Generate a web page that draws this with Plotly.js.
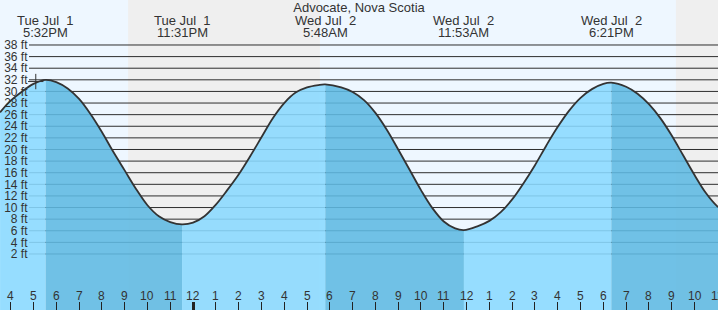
<!DOCTYPE html>
<html>
<head>
<meta charset="utf-8">
<script src="https://cdn.plot.ly/plotly-3.0.1.min.js"></script>
<style>
  html, body { margin: 0; padding: 0; background: #ffffff; }
  #chart { width: 718px; height: 310px; }
</style>
</head>
<body>
<div id="chart"></div>
<script>
// ---- Data ----
const stationName = 'Advocate, Nova Scotia';

// tide height curve (ft), local times
const tideTimes = [
  '2025-07-01 15:32', '2025-07-01 16:00', '2025-07-01 16:30', '2025-07-01 17:00', '2025-07-01 17:32',
  '2025-07-01 18:00', '2025-07-01 18:30', '2025-07-01 19:00', '2025-07-01 19:30', '2025-07-01 20:00',
  '2025-07-01 20:30', '2025-07-01 21:00', '2025-07-01 21:30', '2025-07-01 22:00', '2025-07-01 22:30',
  '2025-07-01 23:00', '2025-07-01 23:31',
  '2025-07-02 00:00', '2025-07-02 00:30', '2025-07-02 01:00', '2025-07-02 01:30', '2025-07-02 02:00',
  '2025-07-02 02:30', '2025-07-02 03:00', '2025-07-02 03:30', '2025-07-02 04:00', '2025-07-02 04:30',
  '2025-07-02 05:00', '2025-07-02 05:30', '2025-07-02 05:48', '2025-07-02 06:30', '2025-07-02 07:00',
  '2025-07-02 07:30', '2025-07-02 08:00', '2025-07-02 08:30', '2025-07-02 09:00', '2025-07-02 09:30',
  '2025-07-02 10:00', '2025-07-02 10:30', '2025-07-02 11:00', '2025-07-02 11:30', '2025-07-02 11:53',
  '2025-07-02 12:30', '2025-07-02 13:00', '2025-07-02 13:30', '2025-07-02 14:00', '2025-07-02 14:30',
  '2025-07-02 15:00', '2025-07-02 15:30', '2025-07-02 16:00', '2025-07-02 16:30', '2025-07-02 17:00',
  '2025-07-02 17:30', '2025-07-02 18:00', '2025-07-02 18:21', '2025-07-02 19:00', '2025-07-02 19:30',
  '2025-07-02 20:00', '2025-07-02 20:30', '2025-07-02 21:00', '2025-07-02 21:30', '2025-07-02 22:00',
  '2025-07-02 22:30', '2025-07-02 23:00', '2025-07-02 23:02'
];
const tideHeights = [
  26.4, 28.4, 30.0, 31.3, 32.0,
  31.6, 30.5, 28.7, 26.1, 23.0,
  19.6, 16.4, 13.2, 10.4, 8.5,
  7.5, 7.1,
  7.4, 8.5, 10.5, 13.0, 15.7,
  18.8, 22.1, 25.4, 28.0, 29.8,
  30.7, 31.1, 31.2, 30.7, 29.9,
  28.5, 26.3, 23.4, 20.0, 16.5,
  13.0, 9.9, 7.6, 6.4, 6.1,
  6.8, 7.7, 9.2, 11.4, 14.2,
  17.3, 20.7, 23.9, 26.7, 28.9,
  30.4, 31.3, 31.5, 30.8, 29.6,
  27.8, 25.4, 22.4, 19.0, 15.6,
  12.5, 10.2, 10.1
];

// high / low tide labels
const extremeTimes = ['2025-07-01 17:32', '2025-07-01 23:31', '2025-07-02 05:48', '2025-07-02 11:53', '2025-07-02 18:21'];
const extremeDays = ['Tue Jul\u00a0 1', 'Tue Jul\u00a0 1', 'Wed Jul\u00a0 2', 'Wed Jul\u00a0 2', 'Wed Jul\u00a0 2'];
const extremeClock = ['5:32PM', '11:31PM', '5:48AM', '11:53AM', '6:21PM'];

// night periods (sunset -> sunrise)
const nightStarts = ['2025-07-01 21:09', '2025-07-02 21:11'];
const nightEnds = ['2025-07-02 05:34', '2025-07-02 23:10'];

// current time marker
const nowTime = ['2025-07-01 17:06'];
const nowHeight = [31.7];

// height grid (ft)
const heightTicks = [2, 4, 6, 8, 10, 12, 14, 16, 18, 20, 22, 24, 26, 28, 30, 32, 34, 36, 38];
const heightLabels = heightTicks.map(v => v + ' ft');

// hour ticks
const hourTicks = [
  '2025-07-01 16:00', '2025-07-01 17:00', '2025-07-01 18:00', '2025-07-01 19:00',
  '2025-07-01 20:00', '2025-07-01 21:00', '2025-07-01 22:00', '2025-07-01 23:00',
  '2025-07-02 00:00', '2025-07-02 01:00', '2025-07-02 02:00', '2025-07-02 03:00',
  '2025-07-02 04:00', '2025-07-02 05:00', '2025-07-02 06:00', '2025-07-02 07:00',
  '2025-07-02 08:00', '2025-07-02 09:00', '2025-07-02 10:00', '2025-07-02 11:00',
  '2025-07-02 12:00', '2025-07-02 13:00', '2025-07-02 14:00', '2025-07-02 15:00',
  '2025-07-02 16:00', '2025-07-02 17:00', '2025-07-02 18:00', '2025-07-02 19:00',
  '2025-07-02 20:00', '2025-07-02 21:00', '2025-07-02 22:00', '2025-07-02 23:00'
];
const hourLabels = ['4', '5', '6', '7', '8', '9', '10', '11', '12', '1', '2', '3', '4', '5', '6', '7',
  '8', '9', '10', '11', '12', '1', '2', '3', '4', '5', '6', '7', '8', '9', '10', '11'];
const midnightTicks = ['2025-07-02 00:00'];

// ---- Styling ----
const xRange = ['2025-07-01 15:31:50', '2025-07-02 23:01:48'];
const yRange = [-7.65, 45.75];
const floorVal = -8;
const W = 718, H = 310;
const txt = '#333333';
const risingFill = 'rgba(138,217,255,0.88)';
const fallingFill = 'rgba(95,185,226,0.88)';

// ---- Build traces ----
const traces = [];
const cut = [0];
extremeTimes.forEach(t => { const i = tideTimes.indexOf(t); if (i > 0) cut.push(i); });
cut.push(tideTimes.length - 1);
for (let s = 0; s < cut.length - 1; s++) {
  const i0 = cut[s], i1 = cut[s + 1];
  const xs = tideTimes.slice(i0, i1 + 1);
  const ys = tideHeights.slice(i0, i1 + 1);
  const rising = ys[ys.length - 1] > ys[0];
  traces.push({
    x: [xs[0], xs[xs.length - 1]], y: [floorVal, floorVal],
    mode: 'lines', line: { width: 0 }, hoverinfo: 'skip', showlegend: false
  });
  traces.push({
    x: xs, y: ys, mode: 'lines', line: { width: 0, shape: 'spline' },
    fill: 'tonexty', fillcolor: rising ? risingFill : fallingFill,
    hoverinfo: 'skip', showlegend: false
  });
}
traces.push({
  x: tideTimes, y: tideHeights, mode: 'lines',
  line: { color: '#333333', width: 1.8, shape: 'spline' },
  hoverinfo: 'skip', showlegend: false
});
traces.push({
  x: nowTime, y: nowHeight, xaxis: 'x2', mode: 'markers',
  marker: { symbol: 'cross-thin', size: 11, line: { color: '#333333', width: 1 } },
  hoverinfo: 'skip', showlegend: false
});

// ---- Shapes ----
const shapes = [];
nightStarts.forEach((s, i) => {
  shapes.push({ type: 'rect', layer: 'below', xref: 'x', yref: 'paper', x0: s, x1: nightEnds[i], y0: 0, y1: 1,
    fillcolor: '#efefef', line: { width: 0 } });
});
heightTicks.forEach(v => {
  shapes.push({ type: 'line', layer: 'below', xref: 'paper', yref: 'y', x0: 29 / W, x1: 1, y0: v, y1: v,
    line: { color: '#2e2e2e', width: 1 } });
});

// ---- Annotations ----
const annotations = [];
extremeTimes.forEach((t, i) => {
  annotations.push({ x: t, xref: 'x', y: 1 - 20.3 / H, yref: 'paper', yanchor: 'middle', showarrow: false,
    text: extremeDays[i], font: { size: 13, color: txt } });
  annotations.push({ x: t, xref: 'x', y: 1 - 32.2 / H, yref: 'paper', yanchor: 'middle', showarrow: false,
    text: extremeClock[i], font: { size: 13, color: txt } });
});
hourTicks.forEach((t, i) => {
  annotations.push({ x: t, xref: 'x', y: 1 - 295.5 / H, yref: 'paper', yanchor: 'middle', xanchor: 'center',
    showarrow: false, text: hourLabels[i], font: { size: 12, color: txt } });
});

const layout = {
  width: W, height: H,
  margin: { l: 0, r: 0, t: 0, b: 0, pad: 0 },
  paper_bgcolor: '#ffffff', plot_bgcolor: '#eef7ff',
  font: { family: '"Liberation Sans", Arial, sans-serif', size: 12, color: txt },
  title: { text: stationName, x: 0.5, xref: 'paper', y: 1 - 7.5 / H, yref: 'container', yanchor: 'middle',
    font: { size: 13, color: txt } },
  showlegend: false,
  xaxis: {
    type: 'date', range: xRange, fixedrange: true,
    tickmode: 'array', tickvals: hourTicks, ticktext: hourLabels,
    ticks: 'inside', ticklen: 8, tickwidth: 1, tickcolor: '#222222',
    showticklabels: false,
    showgrid: false, zeroline: false, showline: false
  },
  xaxis2: {
    type: 'date', range: xRange, overlaying: 'x', anchor: 'y', side: 'bottom', fixedrange: true,
    tickmode: 'array', tickvals: midnightTicks,
    ticks: 'inside', ticklen: 8, tickwidth: 3, tickcolor: '#222222',
    showticklabels: false, showgrid: false, zeroline: false, showline: false
  },
  yaxis: {
    range: yRange, fixedrange: true, anchor: 'free', position: 27.5 / W, side: 'left',
    tickmode: 'array', tickvals: heightTicks, ticktext: heightLabels,
    ticks: '', tickfont: { size: 12, color: txt },
    showgrid: false, zeroline: false, showline: false
  },
  shapes: shapes,
  annotations: annotations
};

Plotly.newPlot('chart', traces, layout, { staticPlot: true, displayModeBar: false });
</script>
</body>
</html>
